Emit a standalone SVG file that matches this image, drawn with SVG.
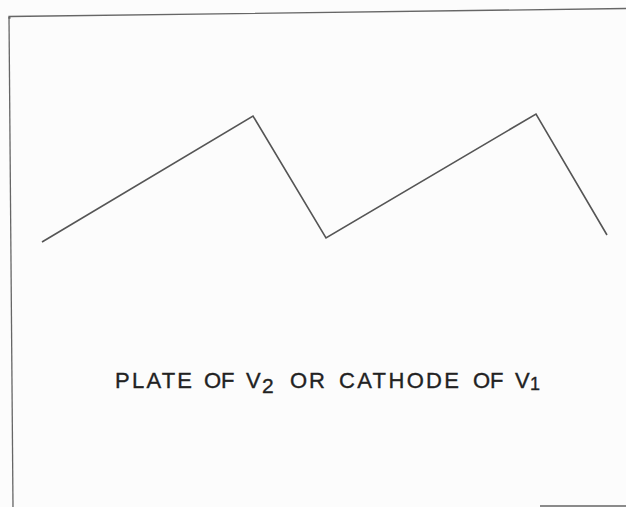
<svg xmlns="http://www.w3.org/2000/svg" width="626" height="507" viewBox="0 0 626 507">
<style>
.ln{fill:none;stroke:#555;stroke-width:1.6;stroke-linejoin:miter}
.fr{fill:none;stroke:#666;stroke-width:1.3}
.lb{font-family:"Liberation Sans",Arial,sans-serif;font-size:22px;fill:#222;stroke:#222;stroke-width:0.35}
</style>
<rect width="626" height="507" fill="#fcfcfc"/>
<g id="frame">
<polyline class="fr" points="626,8.5 9,16.5 9,18 10.5,18"/>
<line class="fr" x1="9" y1="17" x2="13" y2="507"/>
<line class="fr" x1="540" y1="506" x2="626" y2="506"/>
</g>
<g id="waveform">
<polyline class="ln" points="42,242 253,116 326,238 536,114 607,235"/>
</g>
<g id="label" class="lb">
<text x="115" y="388" textLength="77" lengthAdjust="spacing">PLATE</text>
<text x="204" y="388">OF</text>
<text x="246" y="388">V</text>
<text x="262" y="393" font-size="21">2</text>
<text x="290" y="388" textLength="35" lengthAdjust="spacing">OR</text>
<text x="339" y="388" textLength="120" lengthAdjust="spacing">CATHODE</text>
<text x="473" y="388">OF</text>
<text x="515" y="388">V</text>
<text x="530" y="390" font-size="18">1</text>
</g>
</svg>
